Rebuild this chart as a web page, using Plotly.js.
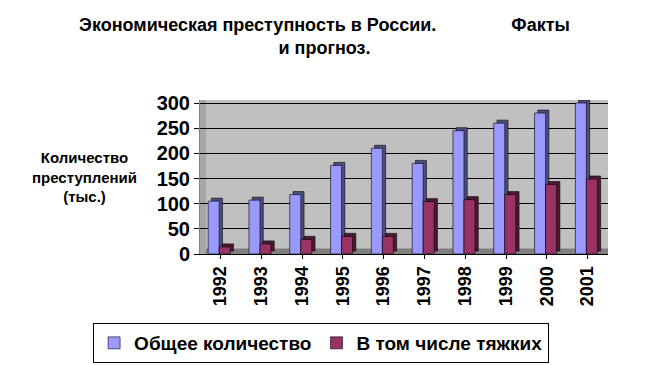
<!DOCTYPE html>
<html><head><meta charset="utf-8">
<script src="https://cdn.plot.ly/plotly-3.0.1.min.js"></script>
<style>html,body{margin:0;padding:0;background:#fff}#c{width:649px;height:365px}</style>
</head><body><div id="c"></div>
<script>
const years = ['1992','1993','1994','1995','1996','1997','1998','1999','2000','2001'];
const total = [105, 107, 118, 176, 210, 180, 245, 260, 280, 300];
const grave = [14, 20, 29, 35, 35, 104, 108, 118, 138, 149];
const seriesNames = ['Общее количество', 'В том числе тяжких'];
const yTicks = [0, 50, 100, 150, 200, 250, 300];

const depthBase = 6;
const W = 0.27;
const F = 'Liberation Sans, Arial, sans-serif';
function front(y, name, color, off){
  return {type:'bar', x:years, y:y, name:name, offset:off, width:W,
    marker:{color:color, line:{color:'#000', width:0.6}}, showlegend:true, hoverinfo:'y'};
}
function side(y, color, off){
  return {type:'bar', x:years, y:y, base:depthBase, offset:off+0.08, width:W,
    marker:{color:color, line:{color:'#000', width:0.6}}, showlegend:false, hoverinfo:'skip'};
}
const data = [
  side(total, '#4d4d80', -0.3),
  front(total, seriesNames[0], '#9999ff', -0.3),
  side(grave, '#4d1a33', -0.03),
  front(grave, seriesNames[1], '#993366', -0.03)
];
const title1 = 'Экономическая преступность в России.' + '\u00a0'.repeat(15) + 'Факты';
const layout = {
  width:649, height:365,
  margin:{l:200, r:41, t:100, b:111, autoexpand:false},
  paper_bgcolor:'#fff', plot_bgcolor:'#c0c0c0',
  barmode:'overlay',
  font:{family:F, color:'#000'},
  title:{text:title1 + '<br>и прогноз.',
    font:{size:18, weight:'bold'}, x:0.5, xanchor:'center', y:0.915, yanchor:'top'},
  xaxis:{type:'category', tickangle:-90, tickfont:{size:18, weight:'bold'},
    showline:true, linecolor:'#000', linewidth:1,
    ticks:'outside', ticklen:4, tickcolor:'#000', showgrid:false, zeroline:false},
  yaxis:{range:[0,306], tickvals:yTicks, tickfont:{size:20, weight:'bold'},
    showgrid:true, gridcolor:'#000', gridwidth:1, showline:true, linecolor:'#808080',
    ticks:'outside', ticklen:5, tickcolor:'#000', zeroline:false},
  legend:{orientation:'h', xref:'paper', x:-0.262, xanchor:'left',
    yref:'paper', y:-0.448, yanchor:'top',
    font:{size:19, weight:'bold'}, bordercolor:'#000', borderwidth:1, bgcolor:'#fff',
    traceorder:'normal', itemwidth:30, tracegroupgap:0},
  shapes:[
    {type:'rect', xref:'paper', yref:'paper', x0:0, x1:1, y0:0, y1:0.035,
      fillcolor:'#808080', line:{width:0}, layer:'below'},
    {type:'rect', xref:'paper', yref:'paper', x0:0, x1:0.015, y0:0, y1:1,
      fillcolor:'#a6a6a6', line:{width:0}, layer:'below'}
  ],
  annotations:[{xref:'paper', yref:'paper', x:-0.283, y:0.5, xanchor:'center', yanchor:'middle',
    showarrow:false, align:'center',
    text:'Количество<br>преступлений<br>(тыс.)', font:{size:15, weight:'bold'}}]
};
Plotly.newPlot('c', data, layout, {displayModeBar:false, staticPlot:true});
</script></body></html>
